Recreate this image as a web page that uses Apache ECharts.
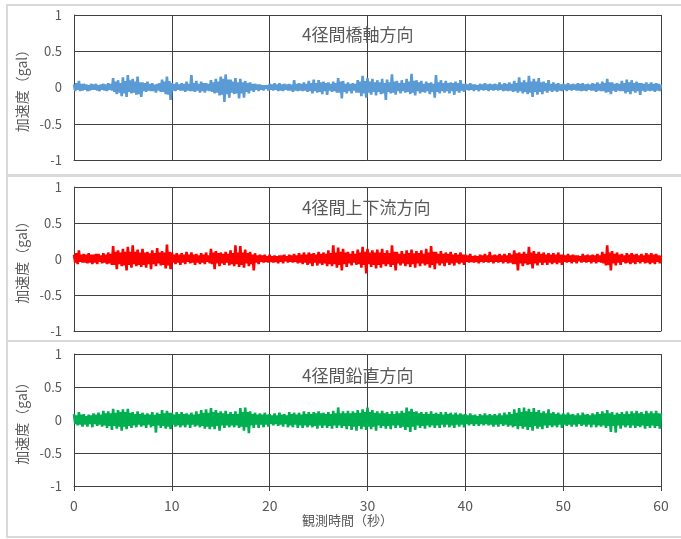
<!DOCTYPE html>
<html>
<head>
<meta charset="utf-8">
<script src="https://cdn.jsdelivr.net/npm/echarts@6/dist/echarts.min.js"></script>
<style>
  html, body { margin: 0; padding: 0; background: #fff; }
  #chart { width: 681px; height: 539px; }
</style>
</head>
<body>
<div id="chart"></div>
<script>
// Panel titles (one per measured direction)
const panelTitles = ['4径間橋軸方向', '4径間上下流方向', '4径間鉛直方向'];
const yAxisName = '加速度（gal）';
const xAxisName = '観測時間（秒）';
const xTicks = [0, 10, 20, 30, 40, 50, 60];
const yTicks = [-1, -0.5, 0, 0.5, 1];

// Sampling step of the recorded acceleration (seconds): 8 samples per second
const sampleStep = 0.125;

// Bridge-axis direction acceleration (gal), one row per second, 0–60 s
const bridgeAxis = [
  0.04,-0.05,0.06,-0.03,0.09,-0.05,0.05,-0.04,
  0.05,-0.03,0.04,-0.05,0.03,-0.04,0.05,-0.03,
  0.04,-0.03,0.05,-0.04,0.03,-0.05,0.04,-0.03,
  0.05,-0.04,0.04,-0.05,0.06,-0.03,0.05,-0.04,
  0.13,-0.06,0.08,-0.09,0.10,-0.07,0.06,-0.12,
  0.14,-0.08,0.09,-0.13,0.17,-0.06,0.10,-0.08,
  0.12,-0.07,0.08,-0.10,0.15,-0.09,0.07,-0.13,
  0.07,-0.05,0.06,-0.06,0.08,-0.04,0.05,-0.05,
  0.06,-0.05,0.04,-0.07,0.05,-0.04,0.06,-0.06,
  0.11,-0.06,0.08,-0.09,0.15,-0.10,0.09,-0.17,
  0.06,-0.04,0.05,-0.05,0.07,-0.03,0.04,-0.04,
  0.06,-0.04,0.05,-0.06,0.08,-0.04,0.05,-0.05,
  0.17,-0.05,0.06,-0.06,0.09,-0.04,0.05,-0.07,
  0.08,-0.05,0.06,-0.07,0.06,-0.04,0.05,-0.05,
  0.10,-0.06,0.07,-0.08,0.12,-0.07,0.08,-0.11,
  0.15,-0.10,0.12,-0.20,0.18,-0.09,0.11,-0.14,
  0.11,-0.07,0.08,-0.09,0.13,-0.08,0.07,-0.15,
  0.12,-0.08,0.07,-0.14,0.09,-0.06,0.06,-0.08,
  0.07,-0.04,0.05,-0.06,0.05,-0.03,0.04,-0.05,
  0.04,-0.03,0.03,-0.04,0.03,-0.02,0.03,-0.04,
  0.05,-0.03,0.04,-0.04,0.06,-0.03,0.04,-0.05,
  0.06,-0.04,0.04,-0.05,0.05,-0.03,0.04,-0.04,
  0.05,-0.04,0.04,-0.06,0.10,-0.04,0.05,-0.05,
  0.06,-0.04,0.05,-0.05,0.07,-0.04,0.05,-0.06,
  0.09,-0.05,0.06,-0.08,0.11,-0.05,0.06,-0.07,
  0.10,-0.06,0.07,-0.09,0.08,-0.05,0.06,-0.10,
  0.07,-0.04,0.05,-0.06,0.08,-0.05,0.06,-0.07,
  0.13,-0.07,0.08,-0.15,0.09,-0.06,0.05,-0.08,
  0.07,-0.05,0.05,-0.08,0.06,-0.04,0.05,-0.07,
  0.10,-0.07,0.08,-0.12,0.16,-0.08,0.09,-0.14,
  0.13,-0.07,0.08,-0.10,0.12,-0.06,0.07,-0.11,
  0.10,-0.06,0.07,-0.09,0.12,-0.08,0.06,-0.17,
  0.11,-0.06,0.07,-0.08,0.18,-0.07,0.08,-0.10,
  0.09,-0.05,0.06,-0.08,0.10,-0.05,0.06,-0.07,
  0.12,-0.06,0.08,-0.09,0.19,-0.07,0.09,-0.11,
  0.10,-0.05,0.07,-0.08,0.09,-0.06,0.05,-0.07,
  0.08,-0.05,0.06,-0.09,0.07,-0.06,0.05,-0.14,
  0.17,-0.06,0.07,-0.08,0.10,-0.05,0.06,-0.07,
  0.09,-0.05,0.06,-0.08,0.07,-0.05,0.06,-0.10,
  0.08,-0.05,0.06,-0.07,0.10,-0.04,0.05,-0.06,
  0.05,-0.03,0.04,-0.04,0.06,-0.03,0.04,-0.05,
  0.04,-0.03,0.03,-0.05,0.05,-0.03,0.04,-0.04,
  0.06,-0.03,0.04,-0.05,0.05,-0.03,0.04,-0.04,
  0.05,-0.03,0.04,-0.04,0.07,-0.03,0.04,-0.05,
  0.06,-0.04,0.05,-0.05,0.07,-0.04,0.05,-0.06,
  0.09,-0.05,0.06,-0.07,0.14,-0.05,0.07,-0.08,
  0.10,-0.06,0.07,-0.09,0.16,-0.07,0.08,-0.13,
  0.12,-0.06,0.08,-0.10,0.13,-0.06,0.07,-0.09,
  0.08,-0.05,0.06,-0.07,0.10,-0.04,0.05,-0.06,
  0.07,-0.04,0.05,-0.06,0.06,-0.04,0.04,-0.05,
  0.05,-0.03,0.04,-0.05,0.06,-0.03,0.04,-0.04,
  0.05,-0.03,0.04,-0.04,0.06,-0.04,0.05,-0.05,
  0.06,-0.04,0.04,-0.05,0.05,-0.03,0.04,-0.04,
  0.06,-0.04,0.05,-0.06,0.07,-0.04,0.05,-0.05,
  0.08,-0.05,0.06,-0.07,0.12,-0.06,0.07,-0.09,
  0.07,-0.04,0.05,-0.06,0.06,-0.04,0.05,-0.05,
  0.09,-0.05,0.06,-0.08,0.11,-0.06,0.07,-0.09,
  0.10,-0.05,0.06,-0.07,0.08,-0.05,0.06,-0.10,
  0.06,-0.04,0.05,-0.06,0.07,-0.04,0.05,-0.05,
  0.07,-0.04,0.05,-0.06,0.06,-0.04,0.05,-0.05,
  0.04
];

// Upstream–downstream direction acceleration (gal), one row per second, 0–60 s
const streamDir = [
  0.06,-0.05,0.08,-0.07,0.12,-0.04,0.06,-0.05,
  0.07,-0.05,0.06,-0.06,0.08,-0.05,0.06,-0.07,
  0.06,-0.05,0.07,-0.07,0.07,-0.04,0.05,-0.06,
  0.08,-0.05,0.06,-0.07,0.09,-0.06,0.07,-0.08,
  0.18,-0.08,0.10,-0.14,0.12,-0.07,0.09,-0.10,
  0.14,-0.09,0.10,-0.16,0.17,-0.08,0.10,-0.12,
  0.19,-0.07,0.10,-0.10,0.13,-0.08,0.09,-0.11,
  0.14,-0.08,0.09,-0.12,0.10,-0.07,0.08,-0.14,
  0.12,-0.07,0.08,-0.10,0.15,-0.06,0.09,-0.09,
  0.11,-0.08,0.09,-0.13,0.20,-0.09,0.10,-0.14,
  0.09,-0.05,0.06,-0.07,0.08,-0.05,0.06,-0.08,
  0.08,-0.05,0.06,-0.07,0.10,-0.04,0.06,-0.06,
  0.09,-0.05,0.06,-0.08,0.07,-0.05,0.05,-0.07,
  0.08,-0.05,0.06,-0.07,0.09,-0.04,0.05,-0.06,
  0.14,-0.07,0.09,-0.14,0.11,-0.06,0.08,-0.10,
  0.09,-0.06,0.07,-0.08,0.10,-0.05,0.07,-0.09,
  0.12,-0.07,0.08,-0.10,0.19,-0.07,0.09,-0.11,
  0.18,-0.08,0.09,-0.12,0.13,-0.06,0.08,-0.10,
  0.10,-0.07,0.06,-0.16,0.08,-0.05,0.05,-0.07,
  0.06,-0.04,0.05,-0.05,0.06,-0.04,0.04,-0.05,
  0.06,-0.04,0.04,-0.05,0.05,-0.04,0.04,-0.06,
  0.05,-0.04,0.05,-0.06,0.06,-0.03,0.04,-0.05,
  0.06,-0.04,0.05,-0.05,0.07,-0.04,0.05,-0.06,
  0.08,-0.05,0.06,-0.07,0.09,-0.05,0.06,-0.08,
  0.09,-0.06,0.07,-0.10,0.08,-0.05,0.06,-0.09,
  0.10,-0.06,0.07,-0.08,0.09,-0.06,0.07,-0.10,
  0.12,-0.07,0.08,-0.10,0.19,-0.07,0.09,-0.12,
  0.16,-0.08,0.10,-0.16,0.14,-0.07,0.09,-0.11,
  0.10,-0.06,0.07,-0.09,0.11,-0.05,0.07,-0.08,
  0.13,-0.07,0.09,-0.12,0.17,-0.08,0.10,-0.20,
  0.14,-0.07,0.09,-0.11,0.12,-0.08,0.09,-0.13,
  0.13,-0.08,0.09,-0.12,0.14,-0.07,0.08,-0.10,
  0.12,-0.07,0.08,-0.11,0.19,-0.08,0.10,-0.16,
  0.10,-0.06,0.07,-0.09,0.11,-0.06,0.07,-0.10,
  0.12,-0.07,0.08,-0.11,0.13,-0.07,0.08,-0.12,
  0.11,-0.06,0.08,-0.10,0.12,-0.06,0.07,-0.09,
  0.14,-0.07,0.09,-0.12,0.18,-0.08,0.10,-0.14,
  0.10,-0.06,0.07,-0.09,0.11,-0.06,0.07,-0.10,
  0.09,-0.05,0.07,-0.08,0.10,-0.06,0.06,-0.09,
  0.08,-0.05,0.06,-0.07,0.09,-0.05,0.06,-0.08,
  0.06,-0.04,0.05,-0.05,0.07,-0.04,0.04,-0.05,
  0.05,-0.04,0.04,-0.06,0.06,-0.04,0.05,-0.05,
  0.07,-0.04,0.05,-0.05,0.10,-0.04,0.05,-0.06,
  0.06,-0.04,0.05,-0.05,0.07,-0.04,0.05,-0.06,
  0.07,-0.04,0.05,-0.06,0.08,-0.05,0.06,-0.07,
  0.12,-0.07,0.08,-0.16,0.09,-0.06,0.07,-0.10,
  0.10,-0.06,0.07,-0.08,0.17,-0.07,0.09,-0.13,
  0.11,-0.06,0.07,-0.09,0.10,-0.05,0.07,-0.08,
  0.09,-0.05,0.06,-0.08,0.08,-0.05,0.06,-0.07,
  0.08,-0.05,0.06,-0.07,0.09,-0.05,0.06,-0.08,
  0.06,-0.04,0.05,-0.05,0.07,-0.04,0.05,-0.06,
  0.06,-0.04,0.05,-0.06,0.05,-0.03,0.04,-0.05,
  0.07,-0.04,0.05,-0.05,0.06,-0.04,0.05,-0.06,
  0.06,-0.04,0.05,-0.06,0.07,-0.04,0.05,-0.05,
  0.10,-0.06,0.07,-0.09,0.19,-0.08,0.09,-0.16,
  0.11,-0.06,0.07,-0.09,0.09,-0.05,0.06,-0.08,
  0.07,-0.04,0.05,-0.06,0.08,-0.05,0.06,-0.07,
  0.08,-0.05,0.06,-0.07,0.07,-0.04,0.05,-0.06,
  0.07,-0.04,0.05,-0.06,0.08,-0.05,0.06,-0.07,
  0.08,-0.05,0.06,-0.07,0.07,-0.04,0.05,-0.06,
  0.05
];

// Vertical direction acceleration (gal), one row per second, 0–60 s
const verticalDir = [
  0.09,-0.06,0.07,-0.08,0.12,-0.07,0.08,-0.10,
  0.09,-0.07,0.06,-0.10,0.08,-0.06,0.07,-0.11,
  0.10,-0.06,0.08,-0.09,0.11,-0.07,0.08,-0.10,
  0.14,-0.08,0.10,-0.12,0.13,-0.09,0.10,-0.15,
  0.17,-0.09,0.11,-0.13,0.15,-0.10,0.12,-0.16,
  0.16,-0.10,0.12,-0.14,0.17,-0.09,0.11,-0.12,
  0.12,-0.08,0.09,-0.11,0.13,-0.07,0.09,-0.10,
  0.11,-0.08,0.08,-0.12,0.10,-0.07,0.08,-0.11,
  0.12,-0.09,0.08,-0.19,0.11,-0.08,0.09,-0.12,
  0.15,-0.09,0.10,-0.13,0.14,-0.10,0.11,-0.14,
  0.11,-0.07,0.08,-0.10,0.12,-0.08,0.09,-0.11,
  0.12,-0.08,0.09,-0.11,0.10,-0.07,0.08,-0.12,
  0.11,-0.07,0.08,-0.10,0.13,-0.08,0.09,-0.11,
  0.15,-0.09,0.11,-0.13,0.16,-0.10,0.11,-0.14,
  0.18,-0.10,0.12,-0.14,0.15,-0.09,0.11,-0.16,
  0.13,-0.08,0.10,-0.12,0.14,-0.08,0.09,-0.11,
  0.12,-0.08,0.09,-0.11,0.13,-0.08,0.09,-0.12,
  0.18,-0.10,0.12,-0.16,0.19,-0.11,0.12,-0.20,
  0.13,-0.08,0.09,-0.12,0.11,-0.07,0.08,-0.12,
  0.10,-0.07,0.08,-0.11,0.11,-0.07,0.08,-0.10,
  0.09,-0.06,0.07,-0.08,0.10,-0.06,0.07,-0.09,
  0.11,-0.07,0.08,-0.10,0.09,-0.06,0.07,-0.11,
  0.12,-0.08,0.09,-0.11,0.11,-0.07,0.08,-0.12,
  0.11,-0.08,0.08,-0.12,0.13,-0.08,0.09,-0.11,
  0.12,-0.08,0.09,-0.11,0.12,-0.09,0.10,-0.13,
  0.13,-0.08,0.10,-0.12,0.11,-0.08,0.09,-0.12,
  0.12,-0.09,0.09,-0.13,0.14,-0.08,0.10,-0.12,
  0.19,-0.08,0.10,-0.12,0.13,-0.09,0.10,-0.14,
  0.14,-0.09,0.10,-0.15,0.13,-0.10,0.11,-0.16,
  0.15,-0.09,0.11,-0.14,0.16,-0.10,0.12,-0.15,
  0.19,-0.10,0.12,-0.14,0.15,-0.10,0.11,-0.16,
  0.13,-0.08,0.10,-0.12,0.14,-0.09,0.10,-0.13,
  0.12,-0.09,0.09,-0.14,0.13,-0.08,0.09,-0.12,
  0.13,-0.08,0.10,-0.12,0.14,-0.10,0.11,-0.15,
  0.19,-0.11,0.13,-0.18,0.17,-0.10,0.12,-0.15,
  0.13,-0.08,0.10,-0.12,0.12,-0.09,0.09,-0.13,
  0.12,-0.08,0.09,-0.11,0.13,-0.08,0.09,-0.12,
  0.11,-0.08,0.09,-0.12,0.12,-0.07,0.08,-0.11,
  0.12,-0.07,0.09,-0.11,0.11,-0.08,0.08,-0.12,
  0.11,-0.07,0.08,-0.10,0.10,-0.07,0.08,-0.11,
  0.09,-0.06,0.07,-0.08,0.10,-0.06,0.07,-0.09,
  0.08,-0.06,0.06,-0.09,0.09,-0.06,0.07,-0.08,
  0.10,-0.06,0.07,-0.08,0.09,-0.07,0.07,-0.10,
  0.09,-0.07,0.07,-0.10,0.10,-0.06,0.07,-0.09,
  0.11,-0.07,0.08,-0.10,0.12,-0.08,0.09,-0.11,
  0.16,-0.09,0.11,-0.14,0.18,-0.09,0.12,-0.13,
  0.19,-0.10,0.13,-0.15,0.17,-0.11,0.12,-0.16,
  0.18,-0.09,0.12,-0.13,0.15,-0.10,0.11,-0.14,
  0.13,-0.08,0.10,-0.12,0.16,-0.08,0.10,-0.11,
  0.12,-0.08,0.09,-0.11,0.11,-0.07,0.08,-0.12,
  0.10,-0.07,0.08,-0.09,0.11,-0.07,0.08,-0.10,
  0.09,-0.07,0.07,-0.10,0.10,-0.06,0.07,-0.09,
  0.11,-0.07,0.08,-0.10,0.09,-0.07,0.07,-0.11,
  0.10,-0.07,0.08,-0.11,0.12,-0.08,0.09,-0.10,
  0.13,-0.08,0.10,-0.12,0.15,-0.09,0.10,-0.18,
  0.12,-0.09,0.08,-0.19,0.11,-0.08,0.09,-0.13,
  0.12,-0.08,0.09,-0.11,0.13,-0.08,0.09,-0.12,
  0.13,-0.08,0.10,-0.12,0.14,-0.09,0.10,-0.11,
  0.12,-0.08,0.09,-0.13,0.14,-0.09,0.10,-0.12,
  0.13,-0.08,0.10,-0.12,0.14,-0.09,0.10,-0.13,
  0.10
];

const seriesValues = [bridgeAxis, streamDir, verticalDir];
const seriesColors = ['#5B9BD5', '#FF0000', '#00B050'];

// Panel geometry
const gridLeft = 74, gridWidth = 587;
const panelTops = [15, 187, 354];
const panelHeights = [145, 144, 132];
const frameTops = [5, 176, 341];
const frameHeights = [170, 165, 196];
const titleCentersY = [35, 208, 376];

const textColor = '#595959';
const gridColor = '#404040';
const fontFamily = '"Noto Sans CJK JP", "Noto Sans", sans-serif';

const chart = echarts.init(document.getElementById('chart'), null, { renderer: 'canvas' });

const grids = [], xAxes = [], yAxes = [], series = [], titles = [], frames = [];
for (let p = 0; p < 3; p++) {
  const last = p === 2;
  grids.push({ left: gridLeft, top: panelTops[p], width: gridWidth, height: panelHeights[p], containLabel: false });
  xAxes.push({
    type: 'value', gridIndex: p, min: xTicks[0], max: xTicks[xTicks.length - 1], interval: 10,
    axisLine: { show: true, onZero: false, lineStyle: { color: gridColor, width: 1 } },
    axisTick: { show: last, length: 5, lineStyle: { color: gridColor } },
    axisLabel: { show: last, margin: 13, fontSize: 14, color: textColor, fontFamily },
    splitLine: { show: true, lineStyle: { color: gridColor, width: 1 } },
    name: last ? xAxisName : '',
    nameLocation: 'middle', nameGap: 27,
    nameTextStyle: { fontSize: 13, color: textColor, fontFamily, padding: [0, 40, 0, 0] }
  });
  yAxes.push({
    type: 'value', gridIndex: p, min: yTicks[0], max: yTicks[yTicks.length - 1], interval: 0.5,
    axisLine: { show: true, lineStyle: { color: gridColor, width: 1 } },
    axisTick: { show: false },
    axisLabel: { margin: 12, fontSize: 13, color: textColor, fontFamily },
    splitLine: { show: true, lineStyle: { color: gridColor, width: 1 } },
    name: yAxisName, nameLocation: 'middle', nameGap: 44, nameRotate: 90,
    nameTextStyle: { fontSize: 14, color: textColor, fontFamily }
  });
  series.push({
    type: 'line', xAxisIndex: p, yAxisIndex: p,
    data: seriesValues[p].map((v, i) => [i * sampleStep, v]),
    showSymbol: false, symbol: 'none',
    lineStyle: { color: seriesColors[p], width: 2.6 },
    itemStyle: { color: seriesColors[p] },
    animation: false, z: 3
  });
  titles.push({
    text: panelTitles[p], left: 297, top: titleCentersY[p] - 14,
    textStyle: { fontSize: 17, fontWeight: 'normal', color: textColor, fontFamily }
  });
  frames.push({
    type: 'rect', silent: true, z: -1,
    shape: { x: 7, y: frameTops[p], width: 690, height: frameHeights[p] },
    style: { fill: 'none', stroke: '#d9d9d9', lineWidth: 2 }
  });
}

chart.setOption({
  animation: false,
  backgroundColor: '#ffffff',
  title: titles,
  grid: grids,
  xAxis: xAxes,
  yAxis: yAxes,
  series: series,
  graphic: frames
});
</script>
</body>
</html>
